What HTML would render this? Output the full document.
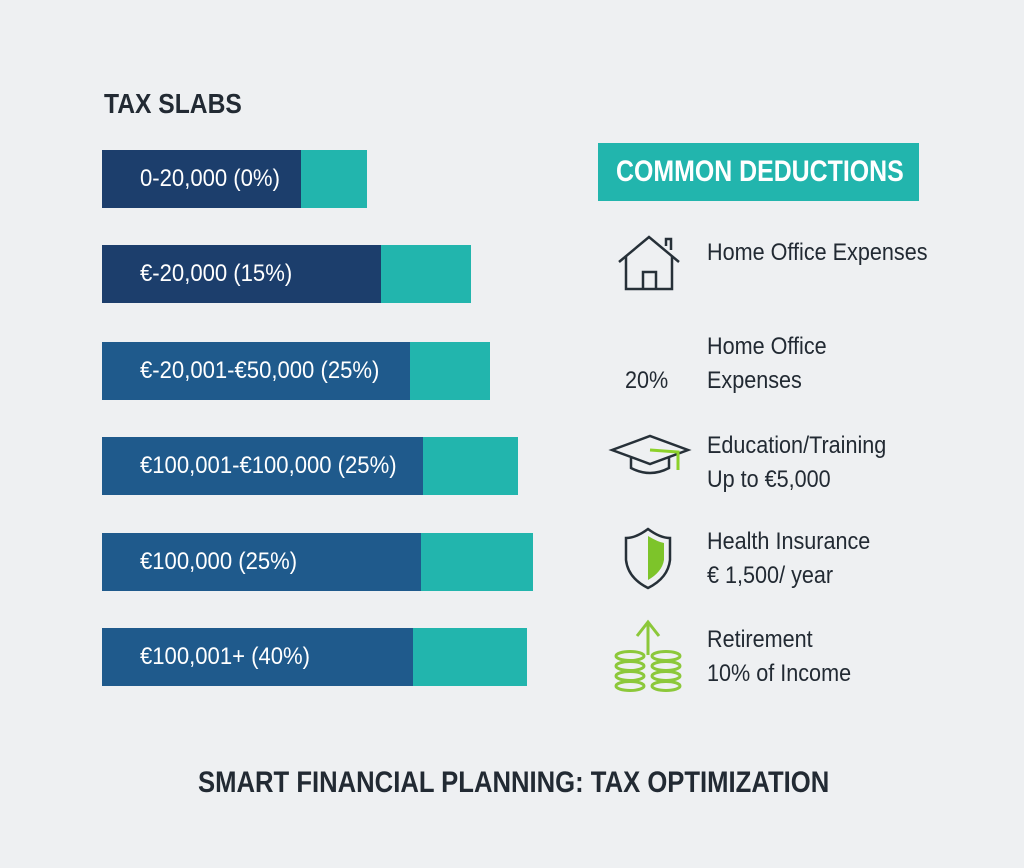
<!DOCTYPE html>
<html><head><style>
body{margin:0;width:1024px;height:868px;background:#eef0f2;position:relative;overflow:hidden;font-family:"Liberation Sans",sans-serif;color:#222a33}
.t{position:absolute;white-space:nowrap;transform-origin:0 0}
.bar{position:absolute;left:102px;height:58px;background:#22b5ad}
.bar .d{position:absolute;left:0;top:0;bottom:0}
.bar span{position:absolute;left:38px;top:0;line-height:58px;color:#fff;font-size:24px;white-space:nowrap;transform:scaleX(0.92);transform-origin:0 0}
.r{font-size:24px;line-height:34px;transform:scaleX(0.9)}
</style></head><body>
<div class="t" style="left:104px;top:88px;font-size:28px;font-weight:bold;transform:scaleX(0.88)">TAX SLABS</div>

<div class="bar" style="top:150px;width:265px"><div class="d" style="width:199px;background:#1c3e6c"></div><span>0-20,000 (0%)</span></div>
<div class="bar" style="top:245px;width:369px"><div class="d" style="width:279px;background:#1c3e6c"></div><span>€-20,000 (15%)</span></div>
<div class="bar" style="top:342px;width:388px"><div class="d" style="width:308px;background:#1f5a8c"></div><span>€-20,001-€50,000 (25%)</span></div>
<div class="bar" style="top:437px;width:416px"><div class="d" style="width:321px;background:#1f5a8c"></div><span>€100,001-€100,000 (25%)</span></div>
<div class="bar" style="top:533px;width:431px"><div class="d" style="width:319px;background:#1f5a8c"></div><span>€100,000 (25%)</span></div>
<div class="bar" style="top:628px;width:425px"><div class="d" style="width:311px;background:#1f5a8c"></div><span>€100,001+ (40%)</span></div>

<div class="t" style="left:598px;top:143px;width:321px;height:58px;background:#22b5ad"></div>
<div class="t" style="left:616px;top:143px;color:#fff;font-size:30px;font-weight:bold;line-height:58px;transform:scaleX(0.83)">COMMON DEDUCTIONS</div>

<svg style="position:absolute;left:0;top:0" width="1024" height="868">
<g fill="none" stroke="#263038" stroke-width="2.5">
<path d="M619 262 L649 237 L679 262"/><path d="M626 256 V289 H672 V256"/><path d="M643 289 V272 H656 V289"/><path d="M666 246 V239 H671 V250"/>
<path d="M612 450 L650 436 L688 450 L650 464 Z"/><path d="M631 458 V468 Q650 478 669 468 V458"/>
<path d="M648 529 Q636 538 626 538 V560 Q628 578 648 588 Q668 578 670 560 V538 Q660 538 648 529 Z"/>
</g>
<path d="M648 536 Q658 542 664 543 V560 Q662 572 648 580 Z" fill="#7dc42a"/>
<path d="M650 450 L678 452 V470" stroke="#8cd12a" stroke-width="3" fill="none"/>
<g fill="none" stroke="#8cc83a" stroke-width="3">
<path d="M648 655 V623 M637 636 L648 622 L659 636"/>
<ellipse cx="630" cy="656" rx="14" ry="4.5"/><ellipse cx="630" cy="666" rx="14" ry="4.5"/><ellipse cx="630" cy="676" rx="14" ry="4.5"/><ellipse cx="630" cy="686" rx="14" ry="4.5"/>
<ellipse cx="666" cy="656" rx="14" ry="4.5"/><ellipse cx="666" cy="666" rx="14" ry="4.5"/><ellipse cx="666" cy="676" rx="14" ry="4.5"/><ellipse cx="666" cy="686" rx="14" ry="4.5"/>
</g>
</svg>

<div class="t r" style="left:707px;top:236px">Home Office Expenses</div>
<div class="t r" style="left:707px;top:330px">Home Office<br>Expenses</div>
<div class="t r" style="left:625px;top:364px">20%</div>
<div class="t r" style="left:707px;top:429px">Education/Training<br>Up to €5,000</div>
<div class="t r" style="left:707px;top:525px">Health Insurance<br>€ 1,500/ year</div>
<div class="t r" style="left:707px;top:623px">Retirement<br>10% of Income</div>

<div class="t" style="left:198px;top:766px;font-size:30px;font-weight:bold;transform:scaleX(0.855)">SMART FINANCIAL PLANNING: TAX OPTIMIZATION</div>
</body></html>
